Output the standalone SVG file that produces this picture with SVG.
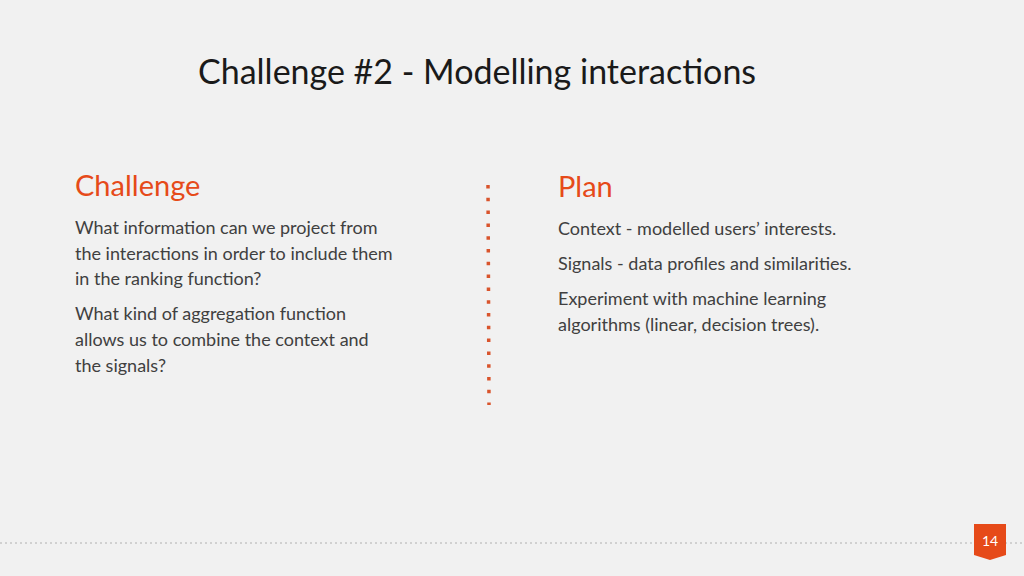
<svg xmlns="http://www.w3.org/2000/svg" width="1024" height="576" viewBox="0 0 1024 576">
<style>
text{font-family:Lato,"Open Sans",sans-serif}
.t{font-size:34px;fill:#1a1a1a}
.h{font-size:29px;fill:#e64a19}
.b{font-size:18px;fill:#404040}
</style>
<rect width="1024" height="576" fill="#f1f1f1"/>
<text class="t" x="198" y="84">Challenge #2 - Modelling interactions</text>
<g id="left">
<text class="h" x="75" y="196">Challenge</text>
<text class="b" x="75" y="234">What information can we project from</text>
<text class="b" x="75" y="260">the interactions in order to include them</text>
<text class="b" x="75" y="285">in the ranking function?</text>
<text class="b" x="75" y="320">What kind of aggregation function</text>
<text class="b" x="75" y="346">allows us to combine the context and</text>
<text class="b" x="75" y="372">the signals?</text>
</g>
<g id="right">
<text class="h" x="558" y="197">Plan</text>
<text class="b" x="558" y="235">Context - modelled users’ interests.</text>
<text class="b" x="558" y="270">Signals - data profiles and similarities.</text>
<text class="b" x="558" y="305">Experiment with machine learning</text>
<text class="b" x="558" y="331">algorithms (linear, decision trees).</text>
</g>
<g id="divider">
<line x1="488" y1="185" x2="489" y2="405" stroke="#d9542c" stroke-width="3.5" stroke-dasharray="3.5 9.3"/>
</g>
<line x1="0" y1="543" x2="1024" y2="543" stroke="#b0b0b0" stroke-width="1" stroke-dasharray="2 3"/>
<g id="page">
<polygon points="974,524 1006,524 1006,555 990,560 974,555" fill="#e64a19"/>
<text x="990" y="546" text-anchor="middle" style="font-size:14px;fill:#fff">14</text>
</g>
</svg>
